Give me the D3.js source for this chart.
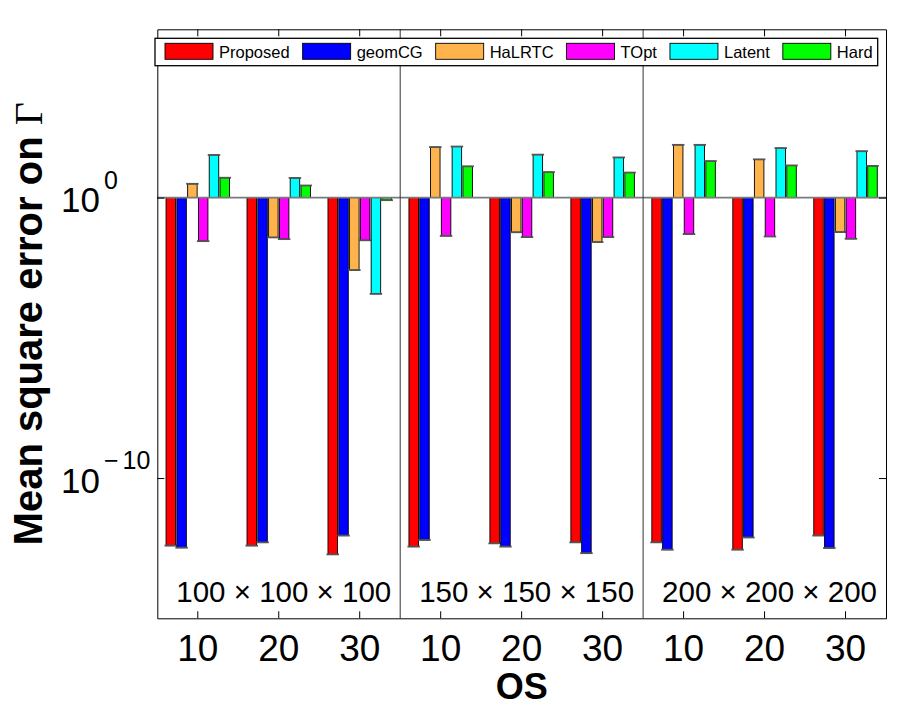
<!DOCTYPE html>
<html>
<head>
<meta charset="utf-8">
<script src="https://cdn.jsdelivr.net/npm/d3@7"></script>
<style>
  body { margin: 0; background: #fff; }
  text { font-family: "Liberation Sans", Arial, Helvetica, sans-serif; }
</style>
</head>
<body>
<div id="viz"></div>
<script>

// data (values in MSE units, bars drawn from 10^0)
var sizes = ["100 \u00d7 100 \u00d7 100", "150 \u00d7 150 \u00d7 150", "200 \u00d7 200 \u00d7 200"];
var osLabels = ["10", "20", "30"];
var methods = ["Proposed", "geomCG", "HaLRTC", "TOpt", "Latent", "Hard"];
var colors = ["#ff0000", "#0000ff", "#ffb34d", "#ff00ff", "#00ffff", "#00ff00"];

// 9 groups: size 100 (OS 10,20,30), size 150 (...), size 200 (...)
var proposed = [3.9e-13, 3.9e-13, 1.9e-13, 3.6e-13, 4.7e-13, 5.1e-13, 5.1e-13, 2.8e-13, 8.9e-13];
var geomCG   = [3.3e-13, 5.1e-13, 8.9e-13, 6.2e-13, 3.6e-13, 2.1e-13, 2.8e-13, 7.6e-13, 3.2e-13];
var halrtc   = [3.1, 0.038, 0.0026, 63, 0.058, 0.026, 76, 23, 0.059];
var topt     = [0.028, 0.033, 0.030, 0.043, 0.039, 0.039, 0.050, 0.041, 0.034];
var latent   = [33, 5.0, 3.7e-4, 66, 34, 27, 76, 58, 45];
var hard     = [5.1, 2.7, 0.81, 13, 8.1, 7.8, 20, 14, 13.5];

var series = [proposed, geomCG, halrtc, topt, latent, hard];

var yTicks = [1e-10, 1e0];
var yTickExp = [["\u2212", "10"], ["", "0"]];

// layout (names avoid window.top and friends)
var W = 900, H = 710;
var pLeft = 157.3, pRight = 886, pTop = 29.3, pBottom = 618.3;

var svg = d3.select("#viz").append("svg")
    .attr("width", W)
    .attr("height", H);

var groups = d3.range(sizes.length * osLabels.length);

var x0 = d3.scaleBand()
    .domain(groups)
    .range([pLeft, pRight]);

var bw = x0.bandwidth();

var x1 = d3.scaleBand()
    .domain(d3.range(methods.length))
    .range([-0.4 * bw, 0.4 * bw])
    .paddingInner(0.12)
    .paddingOuter(0.06);

var y = d3.scaleLog()
    .domain([1e-15, 1e6])
    .range([pBottom, pTop]);

function groupCenter(g) { return x0(g) + bw / 2; }

// bars
series.forEach(function(vals, si) {
    svg.append("g").selectAll("rect")
        .data(vals)
        .enter().append("rect")
        .attr("x", function(d, g) { return groupCenter(g) + x1(si); })
        .attr("width", x1.bandwidth())
        .attr("y", function(d) { return Math.min(y(d), y(1)); })
        .attr("height", function(d) { return Math.abs(y(d) - y(1)); })
        .style("fill", colors[si])
        .style("stroke", "#000")
        .style("stroke-width", 0.9);

    // error caps at the bar ends
    svg.append("g").selectAll("line")
        .data(vals)
        .enter().append("line")
        .attr("x1", function(d, g) { return groupCenter(g) + x1(si) - 1.5; })
        .attr("x2", function(d, g) { return groupCenter(g) + x1(si) + x1.bandwidth() + 1.5; })
        .attr("y1", function(d) { return y(d); })
        .attr("y2", function(d) { return y(d); })
        .style("stroke", "#555")
        .style("stroke-width", 1.8);
});

// baseline at 10^0
svg.append("line")
    .attr("x1", pLeft).attr("x2", pRight)
    .attr("y1", y(1)).attr("y2", y(1))
    .style("stroke", "#7a7a7a")
    .style("stroke-width", 1.6);

// panel dividers
[3, 6].forEach(function(g) {
    svg.append("line")
        .attr("x1", x0(g)).attr("x2", x0(g))
        .attr("y1", pTop).attr("y2", pBottom)
        .style("stroke", "#333")
        .style("stroke-width", 1);
});

// axes with inward ticks
var xBottom = d3.axisBottom(x0)
    .tickSizeInner(-7)
    .tickSizeOuter(0)
    .tickFormat(function(g) { return osLabels[g % osLabels.length]; });

var gxb = svg.append("g")
    .attr("transform", "translate(0," + pBottom + ")")
    .call(xBottom);
gxb.selectAll("text")
    .attr("y", 43)
    .attr("dy", 0)
    .style("font-size", "37px")
    .style("fill", "#000");

var gxt = svg.append("g")
    .attr("transform", "translate(0," + pTop + ")")
    .call(d3.axisTop(x0).tickSizeInner(-7).tickSizeOuter(0).tickFormat(""));

var gyl = svg.append("g")
    .attr("transform", "translate(" + pLeft + ",0)")
    .call(d3.axisLeft(y).tickValues(yTicks).tickSizeInner(-7).tickSizeOuter(0).tickFormat(""));

var gyr = svg.append("g")
    .attr("transform", "translate(" + pRight + ",0)")
    .call(d3.axisRight(y).tickValues(yTicks).tickSizeInner(-7).tickSizeOuter(0).tickFormat(""));

[gxb, gxt, gyl, gyr].forEach(function(g) {
    g.select(".domain").style("stroke", "#000").style("stroke-width", 1);
    g.selectAll(".tick line").style("stroke", "#000");
});

// y tick labels, 10 with a raised exponent
yTicks.forEach(function(v, i) {
    svg.append("text")
        .attr("x", 100)
        .attr("y", y(v) + 14.5)
        .attr("text-anchor", "end")
        .style("font-size", "35px")
        .text("10");
    var sup = svg.append("text")
        .attr("x", 104)
        .attr("y", y(v) - 9)
        .style("font-size", "25px");
    if (yTickExp[i][0]) {
        sup.append("tspan").text(yTickExp[i][0]);
        sup.append("tspan").attr("dx", 4).text(yTickExp[i][1]);
    } else {
        sup.text(yTickExp[i][1]);
    }
});

// panel size labels
sizes.forEach(function(s, p) {
    var g0 = p * osLabels.length;
    var cx = (x0(g0) + x0(g0 + osLabels.length - 1) + bw) / 2;
    svg.append("text")
        .attr("x", cx + 5)
        .attr("y", 601.7)
        .attr("text-anchor", "middle")
        .style("font-size", "29.5px")
        .text(s);
});

// axis titles
svg.append("text")
    .attr("x", (pLeft + pRight) / 2)
    .attr("y", 699)
    .attr("text-anchor", "middle")
    .style("font-size", "36px")
    .style("font-weight", "bold")
    .text("OS");

var yt = svg.append("text")
    .attr("transform", "translate(42," + ((pTop + pBottom) / 2) + ") rotate(-90)")
    .attr("text-anchor", "middle")
    .style("font-size", "40px")
    .style("font-weight", "bold");
yt.append("tspan").text("Mean square error on ");
yt.append("tspan")
    .style("font-family", "'Liberation Serif', 'Times New Roman', serif")
    .style("font-weight", "normal")
    .text("\u0393");

// legend
var legend = svg.append("g");
legend.append("rect")
    .attr("x", 155).attr("y", 38.3)
    .attr("width", 722.7).attr("height", 27.4)
    .style("fill", "#fff")
    .style("stroke", "#000")
    .style("stroke-width", 1.3);

var lx = 165;
methods.forEach(function(m, i) {
    legend.append("rect")
        .attr("x", lx).attr("y", 43.3)
        .attr("width", 48).attr("height", 16)
        .style("fill", colors[i])
        .style("stroke", "#000")
        .style("stroke-width", 0.9);
    var t = legend.append("text")
        .attr("x", lx + 54)
        .attr("y", 57.5)
        .style("font-size", "16.5px")
        .text(m);
    lx = lx + 54 + t.node().getComputedTextLength() + 13;
});

</script>
</body>
</html>
